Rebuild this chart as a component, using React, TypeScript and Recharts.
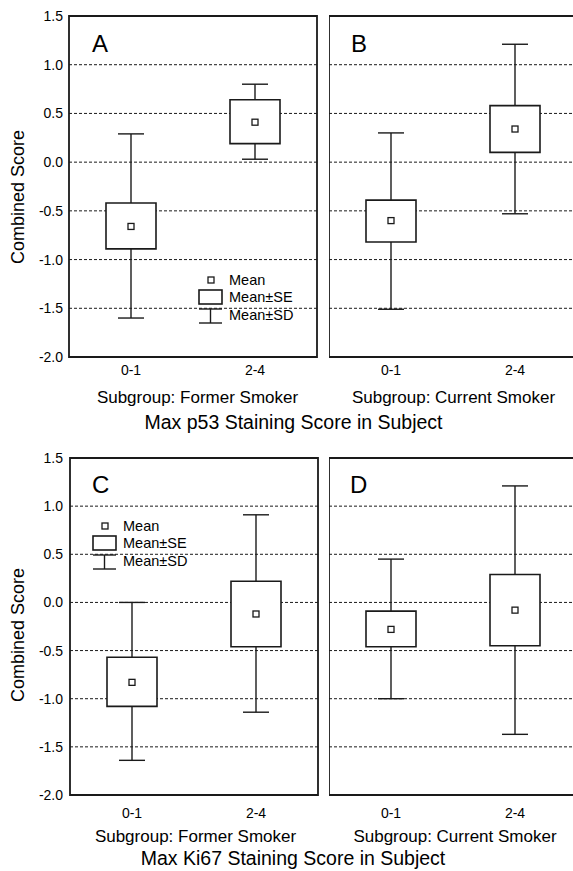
import {
  ComposedChart,
  Bar,
  Scatter,
  XAxis,
  YAxis,
  CartesianGrid,
  ReferenceArea,
  Legend,
} from "recharts";

const INK = "#1a1a1a";
const TEXT = "#000";
const FONT = '"Liberation Sans", Arial, Helvetica, sans-serif';

const categories = ["0-1", "2-4"];
const yTicks = [-2, -1.5, -1, -0.5, 0, 0.5, 1, 1.5];

// A: p53, former smokers
const meanA = [-0.66, 0.41];
const seA = [[-0.89, -0.42], [0.19, 0.64]];
const sdA = [[-1.6, 0.29], [0.03, 0.8]];

// B: p53, current smokers
const meanB = [-0.6, 0.34];
const seB = [[-0.82, -0.39], [0.1, 0.58]];
const sdB = [[-1.51, 0.3], [-0.53, 1.21]];

// C: Ki67, former smokers
const meanC = [-0.83, -0.12];
const seC = [[-1.08, -0.57], [-0.46, 0.22]];
const sdC = [[-1.64, 0.0], [-1.14, 0.91]];

// D: Ki67, current smokers
const meanD = [-0.28, -0.08];
const seD = [[-0.46, -0.09], [-0.45, 0.29]];
const sdD = [[-1.0, 0.45], [-1.37, 1.21]];

const rows = (mean: number[], se: number[][], sd: number[][]) =>
  categories.map((group, i) => ({ group, mean: mean[i], se: se[i], sd: sd[i] }));

const Whisker = (props: any) => {
  const { x, y, width, height } = props;
  const cx = x + width / 2;
  return (
    <g stroke={INK} strokeWidth={1.4}>
      <line x1={cx} x2={cx} y1={y} y2={y + height} />
      <line x1={x} x2={x + width} y1={y} y2={y} />
      <line x1={x} x2={x + width} y1={y + height} y2={y + height} />
    </g>
  );
};

const MeanMarker = (props: any) => (
  <rect
    x={props.cx - 3}
    y={props.cy - 3}
    width={6}
    height={6}
    fill="#fff"
    stroke={INK}
    strokeWidth={1.3}
  />
);

const LegendBox = () => (
  <svg width={110} height={52} style={{ display: "block", overflow: "visible" }}>
    <g stroke={INK} fill="#fff">
      <rect x={9} y={3} width={6} height={6} strokeWidth={1.3} />
      <rect x={0} y={16} width={23} height={14} strokeWidth={1.6} />
      <line x1={0} x2={23} y1={35} y2={35} strokeWidth={1.4} />
      <line x1={11.5} x2={11.5} y1={35} y2={49} strokeWidth={1.4} />
      <line x1={0} x2={23} y1={49} y2={49} strokeWidth={1.4} />
    </g>
    <g fill={TEXT} fontFamily={FONT} fontSize={14.5}>
      <text x={30} y={6} dominantBaseline="central">Mean</text>
      <text x={30} y={23} dominantBaseline="central">Mean±SE</text>
      <text x={30} y={41} dominantBaseline="central">Mean±SD</text>
    </g>
  </svg>
);

type PanelProps = {
  data: any[];
  left: number;
  top: number;
  width: number;
  margin: { top: number; right: number; left: number; bottom: number };
  yWidth: number;
  showY: boolean;
  xHeight: number;
  tickGap: number;
  yGap: number;
  legendAt?: { left: number; top: number };
};

function Panel(p: PanelProps) {
  return (
    <div style={{ position: "absolute", left: p.left, top: p.top }}>
      <ComposedChart width={p.width} height={380} data={p.data} margin={p.margin}>
        <CartesianGrid
          xAxisId="main"
          vertical={false}
          stroke={INK}
          strokeDasharray="3 2"
        />
        <XAxis
          xAxisId="inner"
          dataKey="group"
          height={0}
          mirror
          axisLine={false}
          tickSize={4}
          tickLine={{ stroke: INK }}
          tick={() => <g />}
        />
        <XAxis
          xAxisId="main"
          dataKey="group"
          height={p.xHeight}
          axisLine={false}
          tickLine={false}
          tickSize={0}
          tickMargin={p.tickGap}
          tick={{ fill: TEXT, fontSize: 14, fontFamily: FONT }}
        />
        <XAxis
          xAxisId="top"
          dataKey="group"
          orientation="top"
          height={0}
          mirror
          axisLine={false}
          tickSize={4}
          tickLine={{ stroke: INK }}
          tick={() => <g />}
        />
        <YAxis
          type="number"
          domain={[-2, 1.5]}
          ticks={yTicks}
          hide={!p.showY}
          width={p.yWidth}
          axisLine={false}
          tickLine={false}
          tickSize={0}
          tickMargin={p.yGap}
          tickFormatter={(v: number) => v.toFixed(1)}
          tick={{ fill: TEXT, fontSize: 14, fontFamily: FONT }}
        />
        <Bar
          xAxisId="main"
          dataKey="sd"
          barSize={26}
          shape={<Whisker />}
          isAnimationActive={false}
        />
        <Bar
          xAxisId="top"
          dataKey="se"
          barSize={50}
          fill="#fff"
          stroke={INK}
          strokeWidth={1.6}
          isAnimationActive={false}
        />
        <Scatter
          xAxisId="main"
          dataKey="mean"
          shape={MeanMarker}
          isAnimationActive={false}
        />
        <ReferenceArea
          xAxisId="main"
          y1={-2}
          y2={1.5}
          fill="none"
          fillOpacity={0}
          stroke={INK}
          strokeWidth={1.8}
        />
        {p.legendAt && (
          <Legend
            layout="vertical"
            align="center"
            verticalAlign="middle"
            wrapperStyle={{ left: p.legendAt.left, top: p.legendAt.top, width: 110 }}
            content={() => <LegendBox />}
          />
        )}
      </ComposedChart>
    </div>
  );
}

const Txt = (props: { x: number; y: number; size: number; children: any; align?: "left" | "center" }) => {
  const centered = props.align !== "left";
  return (
    <div
      style={{
        position: "absolute",
        left: centered ? props.x - 200 : props.x,
        top: props.y,
        width: centered ? 400 : undefined,
        textAlign: centered ? "center" : "left",
        fontSize: props.size,
        lineHeight: `${props.size}px`,
        fontFamily: FONT,
        color: TEXT,
        whiteSpace: "nowrap",
      }}
    >
      {props.children}
    </div>
  );
};

const YLabel = ({ cy }: { cy: number }) => (
  <div
    style={{
      position: "absolute",
      left: 17.5 - 100,
      top: cy - 9,
      width: 200,
      height: 18,
      lineHeight: "18px",
      fontSize: 18,
      fontFamily: FONT,
      color: TEXT,
      textAlign: "center",
      transform: "rotate(-90deg)",
      whiteSpace: "nowrap",
    }}
  >
    Combined Score
  </div>
);

export default function App() {
  return (
    <div
      style={{
        position: "absolute",
        left: 0,
        top: 0,
        width: 573,
        height: 871,
        overflow: "hidden",
        background: "#fff",
      }}
    >
      <Panel
        data={rows(meanA, seA, sdA)}
        left={0}
        top={0}
        width={330}
        margin={{ top: 16, right: 13, left: 0, bottom: 0 }}
        yWidth={69}
        showY
        xHeight={23}
        tickGap={8}
        yGap={6}
        legendAt={{ left: 199, top: 274 }}
      />
      <Panel
        data={rows(meanB, seB, sdB)}
        left={329}
        top={0}
        width={248}
        margin={{ top: 16, right: 0, left: 0, bottom: 0 }}
        yWidth={0}
        showY={false}
        xHeight={23}
        tickGap={8}
        yGap={6}
      />
      <Panel
        data={rows(meanC, seC, sdC)}
        left={0}
        top={440}
        width={330}
        margin={{ top: 18, right: 12, left: 0, bottom: 0 }}
        yWidth={70}
        showY
        xHeight={25}
        tickGap={13}
        yGap={7}
        legendAt={{ left: 93, top: 80 }}
      />
      <Panel
        data={rows(meanD, seD, sdD)}
        left={329}
        top={440}
        width={248}
        margin={{ top: 18, right: 0, left: 0, bottom: 0 }}
        yWidth={0}
        showY={false}
        xHeight={25}
        tickGap={13}
        yGap={7}
      />

      <YLabel cy={196.5} />
      <YLabel cy={635} />

      <Txt x={92} y={32} size={24} align="left">A</Txt>
      <Txt x={351} y={32} size={24} align="left">B</Txt>
      <Txt x={92} y={473} size={24} align="left">C</Txt>
      <Txt x={350} y={473} size={24} align="left">D</Txt>

      <Txt x={197.5} y={389} size={17}>Subgroup: Former Smoker</Txt>
      <Txt x={453.5} y={389} size={17}>Subgroup: Current Smoker</Txt>
      <Txt x={293.5} y={413} size={19.5}>Max p53 Staining Score in Subject</Txt>

      <Txt x={195.5} y={828} size={17}>Subgroup: Former Smoker</Txt>
      <Txt x={455} y={828} size={17}>Subgroup: Current Smoker</Txt>
      <Txt x={293} y={849} size={19.5}>Max Ki67 Staining Score in Subject</Txt>
    </div>
  );
}
